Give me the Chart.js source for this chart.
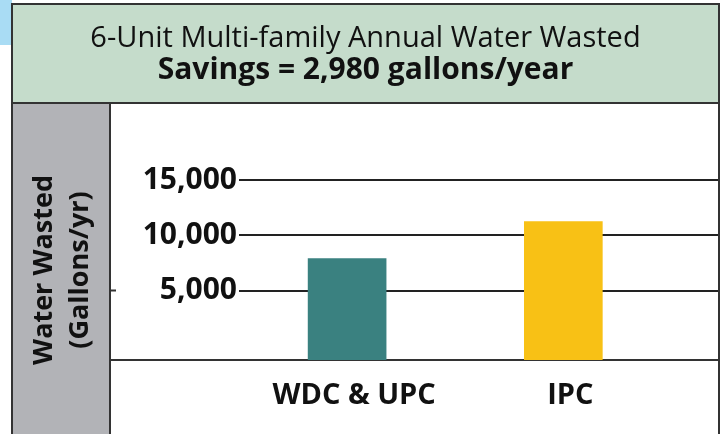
<!DOCTYPE html>
<html>
<head>
<meta charset="utf-8">
<script src="https://cdn.jsdelivr.net/npm/chart.js@4.4.0/dist/chart.umd.min.js"></script>
<style>
  body { margin: 0; background: #fff; }
  #wrap { width: 725px; height: 434px; position: relative; }
</style>
</head>
<body>
<div id="wrap"><canvas id="water-chart"></canvas></div>
<script>
const categories = ["WDC & UPC", "IPC"];
const gallonsWasted = [7900, 11250];
const barColors = ["#3a8180", "#f8c115"];
const yTicks = [5000, 10000, 15000];
const yMin = -1280;
const yMax = 15000;

const FONT = "'Open Sans'";

// header box, grey side band and the frame lines around the chart
const framePlugin = {
  id: "frame",
  beforeDraw(chart) {
    const ctx = chart.ctx;
    ctx.save();
    ctx.fillStyle = "#a9dcf4";
    ctx.fillRect(0, 0, 12, 45);
    ctx.fillStyle = "#c5dccb";
    ctx.fillRect(12, 4, 707, 99);
    ctx.fillStyle = "#b2b3b7";
    ctx.fillRect(12, 103, 98, 331);
    ctx.restore();
  },
  afterDraw(chart) {
    const ctx = chart.ctx;
    const y = chart.scales.y;
    const yBase = y.getPixelForValue(yMin);
    const y5 = y.getPixelForValue(yTicks[0]);
    ctx.save();
    ctx.strokeStyle = "#333";
    ctx.lineWidth = 2;
    ctx.beginPath();
    ctx.rect(12, 4, 707, 440);
    ctx.moveTo(12, 103); ctx.lineTo(719, 103);
    ctx.moveTo(110, 103); ctx.lineTo(110, 434);
    ctx.moveTo(110, yBase); ctx.lineTo(chart.chartArea.left, yBase);
    ctx.moveTo(110, y5); ctx.lineTo(116, y5);
    ctx.stroke();
    ctx.restore();
  }
};

const ctx = document.getElementById("water-chart").getContext("2d");

new Chart(ctx, {
  type: "bar",
  data: {
    datasets: [{
      data: categories.map((c, i) => ({ x: i + 1, y: gallonsWasted[i] })),
      backgroundColor: barColors,
      borderWidth: 0,
      barThickness: 78,
      base: yMin
    }]
  },
  options: {
    responsive: true,
    maintainAspectRatio: false,
    animation: false,
    layout: { padding: { left: 12, right: 6, top: 0, bottom: 0 } },
    plugins: {
      legend: { display: false },
      tooltip: { enabled: false },
      title: {
        display: true,
        text: "6-Unit Multi-family Annual Water Wasted",
        color: "#111",
        font: { family: FONT, size: 29, weight: "normal", lineHeight: 1.2 },
        padding: { top: 21, bottom: 0 }
      },
      subtitle: {
        display: true,
        text: "Savings = 2,980 gallons/year",
        color: "#111",
        font: { family: FONT, size: 30, weight: "bold", lineHeight: 1.0 },
        padding: { top: 0, bottom: 94.2 }
      }
    },
    scales: {
      x: {
        type: "linear",
        offset: false,
        min: 0.5,
        max: 2.72,
        grid: { display: false },
        border: { display: true, color: "#333", width: 2 },
        afterBuildTicks: s => { s.ticks = categories.map((c, i) => ({ value: i + 1 })); },
        afterFit: s => { s.height = 74; },
        ticks: {
          autoSkip: false,
          maxRotation: 0,
          padding: 10,
          labelOffset: 7,
          color: "#111",
          font: { family: FONT, size: 29, weight: "bold" },
          callback: v => categories[v - 1]
        }
      },
      y: {
        min: yMin,
        max: yMax,
        afterBuildTicks: s => { s.ticks = yTicks.map(v => ({ value: v })); },
        afterFit: s => { s.width = 227; },
        grid: { color: "#222", lineWidth: 2, drawTicks: false },
        border: { display: false },
        ticks: {
          padding: 2,
          color: "#111",
          font: { family: FONT, size: 30, weight: "bold" },
          callback: v => v.toLocaleString("en-US")
        },
        title: {
          display: true,
          text: ["Water Wasted", "(Gallons/yr)"],
          color: "#111",
          font: { family: FONT, size: 27, weight: "bold", lineHeight: 1.33 },
          padding: { top: 14 }
        }
      }
    }
  },
  plugins: [framePlugin]
});
</script>
</body>
</html>
